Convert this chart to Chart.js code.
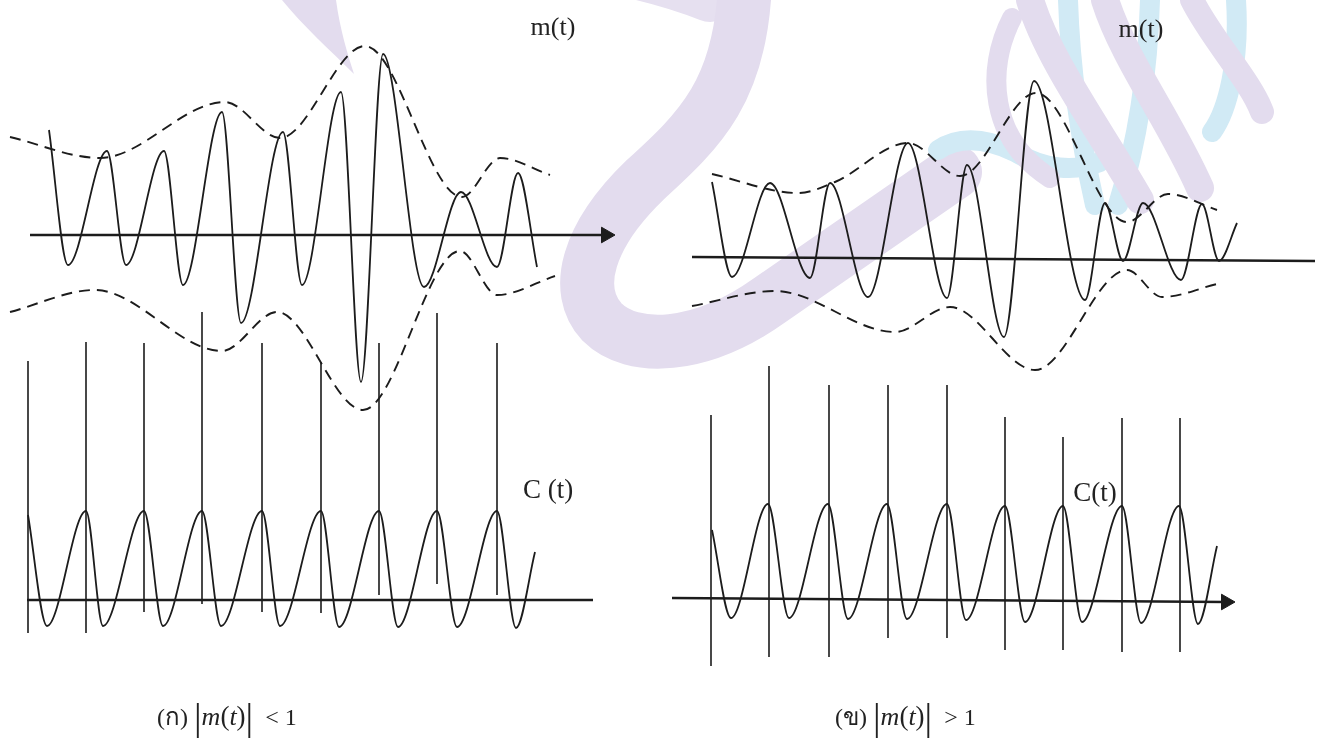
<!DOCTYPE html>
<html>
<head>
<meta charset="utf-8">
<script src="https://cdn.jsdelivr.net/npm/chart.js@4.4.1/dist/chart.umd.min.js"></script>
<style>
html,body{margin:0;padding:0;background:#fff;}
#wrap{position:relative;width:1325px;height:742px;overflow:hidden;background:#fff;}
#wm{position:absolute;left:0;top:0;}
#chart{position:absolute;left:0;top:0;}
.lbl{position:absolute;font-family:"Liberation Serif","Times New Roman",serif;color:#222;white-space:nowrap;transform:translate(-50%,-50%);line-height:1;}
.cap{position:absolute;font-family:"Liberation Serif","Times New Roman",serif;color:#222;white-space:nowrap;font-size:24px;line-height:1;}
.cap .bar{font-size:38px;display:inline-block;vertical-align:middle;transform:translateY(-2px);}
.cap i{font-size:26px;font-style:italic;}
.cap .pp{font-size:27px;}
</style>
</head>
<body>
<div id="wrap">
  <svg id="wm" width="1325" height="742" xmlns="http://www.w3.org/2000/svg">
    <g fill="none" stroke-linecap="round">
      <!-- watermark (decorative background) -->
      <path d="M 330 -48 C 450 -58 610 -45 710 -5" stroke="#e6e0f0" stroke-width="54"/>
      <path d="M 745 -20 C 742 90 700 130 645 180 C 588 235 572 290 602 322 C 632 352 700 350 770 300 L 955 172" stroke="#e3dcee" stroke-width="54"/>
      <path d="M 1068 0 C 1070 60 1078 130 1095 205" stroke="#d1eaf5" stroke-width="20"/>
      <path d="M 1150 0 C 1148 70 1138 140 1118 205" stroke="#d1eaf5" stroke-width="20"/>
      <path d="M 1236 0 C 1240 60 1228 110 1212 132" stroke="#d1eaf5" stroke-width="20"/>
      <path d="M 938 150 C 962 134 990 140 1015 152 C 1045 170 1075 172 1100 162" stroke="#d1eaf5" stroke-width="20"/>
      <path d="M 1012 18 C 985 70 990 140 1050 178" stroke="#e3dcee" stroke-width="20"/>
      <path d="M 1030 0 C 1048 60 1100 130 1140 200" stroke="#e3dcee" stroke-width="28"/>
      <path d="M 1105 0 C 1124 60 1170 120 1200 188" stroke="#e3dcee" stroke-width="28"/>
      <path d="M 1192 0 C 1212 40 1250 80 1262 112" stroke="#e3dcee" stroke-width="24"/>
    </g>
    <path d="M 282 0 L 336 0 C 340 30 348 55 354 74 C 330 50 302 25 282 0 Z" fill="#e3dcee"/>
  </svg>
  <canvas id="chart" width="1325" height="742"></canvas>

  <div class="lbl" style="left:553px;top:27px;font-size:26px;">m(t)</div>
  <div class="lbl" style="left:1141px;top:29px;font-size:26px;">m(t)</div>
  <div class="lbl" style="left:548px;top:489px;font-size:27px;">C (t)</div>
  <div class="lbl" style="left:1095px;top:492px;font-size:27px;">C(t)</div>

  <div class="cap" style="left:157px;top:700px;">(ก) <span class="bar">|</span><i>m</i><span class="pp">(</span><i>t</i><span class="pp">)</span><span class="bar">|</span>&nbsp; &lt; 1</div>
  <div class="cap" style="left:835px;top:700px;">(ข) <span class="bar">|</span><i>m</i><span class="pp">(</span><i>t</i><span class="pp">)</span><span class="bar">|</span>&nbsp; &gt; 1</div>
</div>

<script>
// ---------------- DATA (time and amplitude in divisions) ----------------
// (ก) |m(t)| < 1 : modulated wave
const ltWaveT  = [1.9, 3.8, 7.7, 9.6, 13.4, 15.3, 19.2, 21.1, 25.3, 27.2, 31.1, 33.1, 35.3, 39.4, 43.1, 46.7, 48.8, 50.7];
const ltWaveA  = [10.5, -3.0, 8.4, -3.0, 8.4, -5.0, 12.3, -8.8, 10.3, -5.0, 14.3, -14.7, 18.1, -5.2, 4.3, -3.2, 6.2, -3.2];
const ltUpperT = [-2.0, 7.0, 19.5, 25.0, 33.5, 43.2, 47.0, 52.0];
const ltUpperA = [9.8, 7.7, 13.3, 9.7, 18.9, 3.8, 7.7, 6.0];
const ltLowerT = [-2.0, 6.5, 19.2, 24.7, 33.3, 43.0, 46.7, 52.5];
const ltLowerA = [-7.7, -5.5, -11.6, -7.7, -17.5, -1.6, -6.0, -4.1];
const ltAxisT  = [0, 57.6];
const ltAxisA  = [0, 0];

// (ก) carrier C(t) and sampling pulses
const lbCarrierT = [0.1, 2.0, 5.9, 7.6, 11.7, 13.6, 17.5, 19.4, 23.5, 25.3, 29.4, 31.2, 35.2, 37.1, 41.0, 43.0, 47.0, 48.9, 50.8];
const lbCarrierA = [8.5, -2.6, 8.9, -2.6, 8.9, -2.6, 8.9, -2.6, 8.9, -2.6, 8.9, -2.7, 8.9, -2.7, 8.9, -2.7, 8.9, -2.8, 4.8];
const lbPulseT      = [0.1, 5.9, 11.7, 17.5, 23.5, 29.4, 35.2, 41.0, 47.0];
const lbPulseTop    = [23.9, 25.8, 25.7, 28.8, 25.7, 23.8, 25.7, 28.7, 25.7];
const lbPulseBottom = [-3.3, -3.3, -1.2, -0.4, -1.2, -1.3, 0.5, 1.6, 0.5];
const lbAxisT = [0, 56.6];
const lbAxisA = [0, 0];

// (ข) |m(t)| > 1 : modulated wave
const rtWaveT  = [2.0, 4.0, 7.8, 11.8, 13.8, 17.6, 21.6, 25.5, 27.5, 31.2, 34.2, 39.3, 41.3, 43.1, 45.1, 48.9, 51.0, 52.7, 54.5];
const rtWaveA  = [7.6, -1.9, 7.5, -2.0, 7.5, -3.9, 11.5, -4.0, 9.3, -7.9, 17.7, -4.2, 5.5, -0.3, 5.5, -2.2, 5.4, -0.3, 3.5];
const rtUpperT = [2.0, 10.6, 14.3, 21.6, 26.8, 34.4, 43.5, 47.6, 52.5];
const rtUpperA = [8.4, 6.5, 7.6, 11.5, 8.2, 16.5, 3.6, 6.4, 4.8];
const rtLowerT = [0.0, 8.3, 20.3, 25.8, 34.3, 43.5, 47.0, 52.5];
const rtLowerA = [-4.8, -3.3, -7.4, -4.9, -11.2, -1.2, -3.9, -2.6];
const rtAxisT  = [0, 62.3];
const rtAxisA  = [0.1, -0.3];

// (ข) carrier C(t) and sampling pulses
const rbCarrierT = [4.0, 5.9, 9.6, 11.7, 15.6, 17.6, 21.5, 23.5, 27.5, 29.4, 33.3, 35.3, 39.1, 41.0, 45.0, 46.9, 50.7, 52.6, 54.5];
const rbCarrierA = [7.0, -1.8, 9.6, -1.8, 9.6, -1.9, 9.6, -1.9, 9.6, -2.0, 9.4, -2.2, 9.4, -2.2, 9.4, -2.3, 9.4, -2.4, 5.4];
const rbPulseT      = [3.9, 9.7, 15.7, 21.6, 27.5, 33.3, 39.1, 45.0, 50.8];
const rbPulseTop    = [18.5, 23.4, 21.5, 21.5, 21.5, 18.3, 16.3, 18.2, 18.2];
const rbPulseBottom = [-6.6, -5.7, -5.7, -3.8, -3.8, -5.0, -5.0, -5.2, -5.2];
const rbAxisT = [0, 55.4];
const rbAxisA = [0.2, -0.2];

// ---------------- LAYOUT (panel origins on the page, px per division) ----------------
const W = 1325, H = 742, PX = 10;
const panels = {
  LT: {ox: 30,  oy: 235},
  LB: {ox: 27,  oy: 600},
  RT: {ox: 692, oy: 258},
  RB: {ox: 672, oy: 600}
};

const INK = '#1c1c1c';
function pts(T, A) { return T.map((t, i) => ({x: t, y: A[i]})); }
function pulses(T, top, bot) {
  const out = [];
  T.forEach((t, i) => { out.push({x: t, y: top[i]}, {x: t, y: bot[i]}, {x: t, y: null}); });
  return out;
}
function wave(p, T, A) {
  return {data: pts(T, A), xAxisID: 'x' + p, yAxisID: 'y' + p, borderColor: INK, borderWidth: 1.8,
          cubicInterpolationMode: 'monotone', pointRadius: 0, fill: false};
}
function env(p, T, A) {
  return {data: pts(T, A), xAxisID: 'x' + p, yAxisID: 'y' + p, borderColor: INK, borderWidth: 1.9,
          borderDash: [11, 7], cubicInterpolationMode: 'monotone', pointRadius: 0, fill: false};
}
function axis(p, T, A, arrow) {
  return {data: pts(T, A), xAxisID: 'x' + p, yAxisID: 'y' + p, borderColor: INK, borderWidth: 2.3,
          tension: 0, fill: false,
          pointRadius: arrow ? [0, 9] : 0, pointStyle: 'triangle', pointRotation: 90,
          pointBackgroundColor: INK, pointBorderColor: INK, pointBorderWidth: 1};
}
function pulse(p, T, top, bot) {
  return {data: pulses(T, top, bot), xAxisID: 'x' + p, yAxisID: 'y' + p, borderColor: INK, borderWidth: 1.6,
          tension: 0, spanGaps: false, pointRadius: 0, fill: false};
}

const scales = {};
Object.keys(panels).forEach(k => {
  const p = panels[k];
  scales['x' + k] = {type: 'linear', display: false, min: -p.ox / PX, max: (W - p.ox) / PX};
  scales['y' + k] = {type: 'linear', display: false, min: -(H - p.oy) / PX, max: p.oy / PX};
});

new Chart(document.getElementById('chart'), {
  type: 'line',
  data: {
    datasets: [
      axis('LT', ltAxisT, ltAxisA, true),
      env('LT', ltUpperT, ltUpperA),
      env('LT', ltLowerT, ltLowerA),
      wave('LT', ltWaveT, ltWaveA),

      axis('LB', lbAxisT, lbAxisA, false),
      pulse('LB', lbPulseT, lbPulseTop, lbPulseBottom),
      wave('LB', lbCarrierT, lbCarrierA),

      axis('RT', rtAxisT, rtAxisA, false),
      env('RT', rtUpperT, rtUpperA),
      env('RT', rtLowerT, rtLowerA),
      wave('RT', rtWaveT, rtWaveA),

      axis('RB', rbAxisT, rbAxisA, true),
      pulse('RB', rbPulseT, rbPulseTop, rbPulseBottom),
      wave('RB', rbCarrierT, rbCarrierA)
    ]
  },
  options: {
    responsive: false,
    animation: false,
    devicePixelRatio: 1,
    events: [],
    layout: {padding: 0, autoPadding: false},
    plugins: {legend: {display: false}, tooltip: {enabled: false}, title: {display: false}},
    scales: scales
  }
});
</script>
</body>
</html>
